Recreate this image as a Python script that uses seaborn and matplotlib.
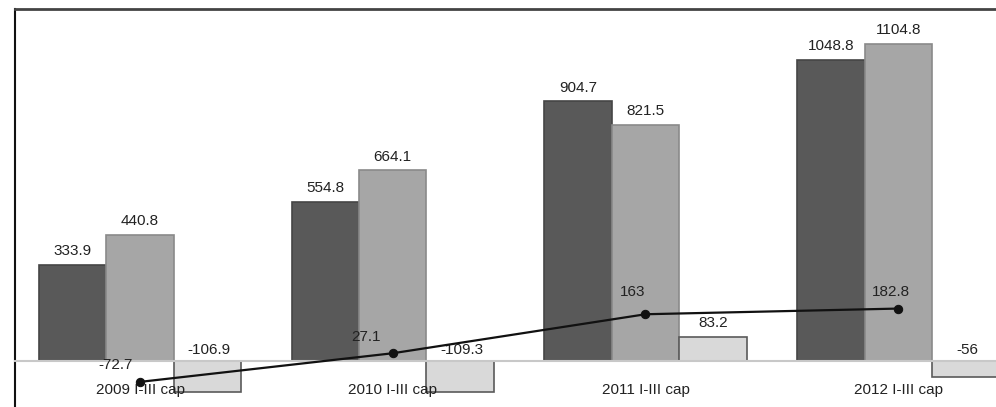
import numpy as np
import pandas as pd
import matplotlib
matplotlib.use("Agg")
import matplotlib.pyplot as plt
import seaborn as sns

# Values per period
categories = ["2009 I-III cap", "2010 I-III cap", "2011 I-III cap", "2012 I-III cap"]
series_a = [333.9, 554.8, 904.7, 1048.8]
series_b = [440.8, 664.1, 821.5, 1104.8]
series_c = [-106.9, -109.3, 83.2, -56]
line_vals = [-72.7, 27.1, 163, 182.8]
series_names = ["A", "B", "C"]

sns.set_theme(style="white")
plt.rcParams["font.family"] = ["Liberation Sans", "DejaVu Sans"]

df = pd.DataFrame({
    "period": categories * 3,
    "series": [series_names[0]] * 4 + [series_names[1]] * 4 + [series_names[2]] * 4,
    "value": series_a + series_b + series_c,
})

fig = plt.figure(figsize=(9.96, 4.07), dpi=100)
ax = fig.add_axes([15 / 996, 0.0, 1 - 15 / 996, (407 - 9) / 407])

fills = ["#595959", "#a6a6a6", "#d9d9d9"]
edges = ["#454545", "#8a8a8a", "#5a5a5a"]
sns.barplot(data=df, x="period", y="value", hue="series", order=categories,
            hue_order=series_names, palette=fills, width=0.8, saturation=1,
            legend=False, ax=ax)

text_kw = dict(fontsize=11, color="#222222")
for i, cont in enumerate(ax.containers):
    for patch in cont:
        patch.set_edgecolor(edges[i])
        patch.set_linewidth(1.2)
    vals = [series_a, series_b, series_c][i]
    pos_labels = [f"{v:g}" if v >= 0 else "" for v in vals]
    ax.bar_label(cont, labels=pos_labels, padding=5, **text_kw)
    for patch, v in zip(cont, vals):
        if v < 0:
            ax.annotate(f"{v:g}", (patch.get_x() + patch.get_width() / 2, 0),
                        xytext=(1, 3), textcoords="offset points",
                        ha="center", va="bottom", **text_kw)

x_pos = np.arange(len(categories))
sns.lineplot(x=x_pos, y=line_vals, color="#111111", linewidth=1.6,
             marker="o", markersize=6, markeredgecolor="#111111", ax=ax,
             zorder=3)
line_offsets = [(-18, 12), (-19, 12), (-9, 16), (-5, 12)]
for xi, v, off in zip(x_pos, line_vals, line_offsets):
    ax.annotate(f"{v:g}", (xi, v), xytext=off, textcoords="offset points",
                ha="center", va="center", **text_kw)

ax.set_xlim(-0.495, 3.387)
ax.set_ylim(-160.3, 1227)
ax.set_xlabel("")
ax.set_ylabel("")
ax.set_yticks([])

# category labels sit on top of the negative bars
ax.set_axisbelow(False)
ax.spines["bottom"].set_position(("data", 0))
ax.spines["bottom"].set_color("#c8c8c8")
ax.spines["bottom"].set_linewidth(1.5)
ax.spines["left"].set_color("#111111")
ax.spines["left"].set_linewidth(1.5)
ax.spines["top"].set_color("#444444")
ax.spines["top"].set_linewidth(2)
ax.spines["right"].set_visible(False)
ax.tick_params(axis="x", length=0, pad=15.5, labelsize=11, labelcolor="#222222")

fig.savefig("out.png", dpi=100)
